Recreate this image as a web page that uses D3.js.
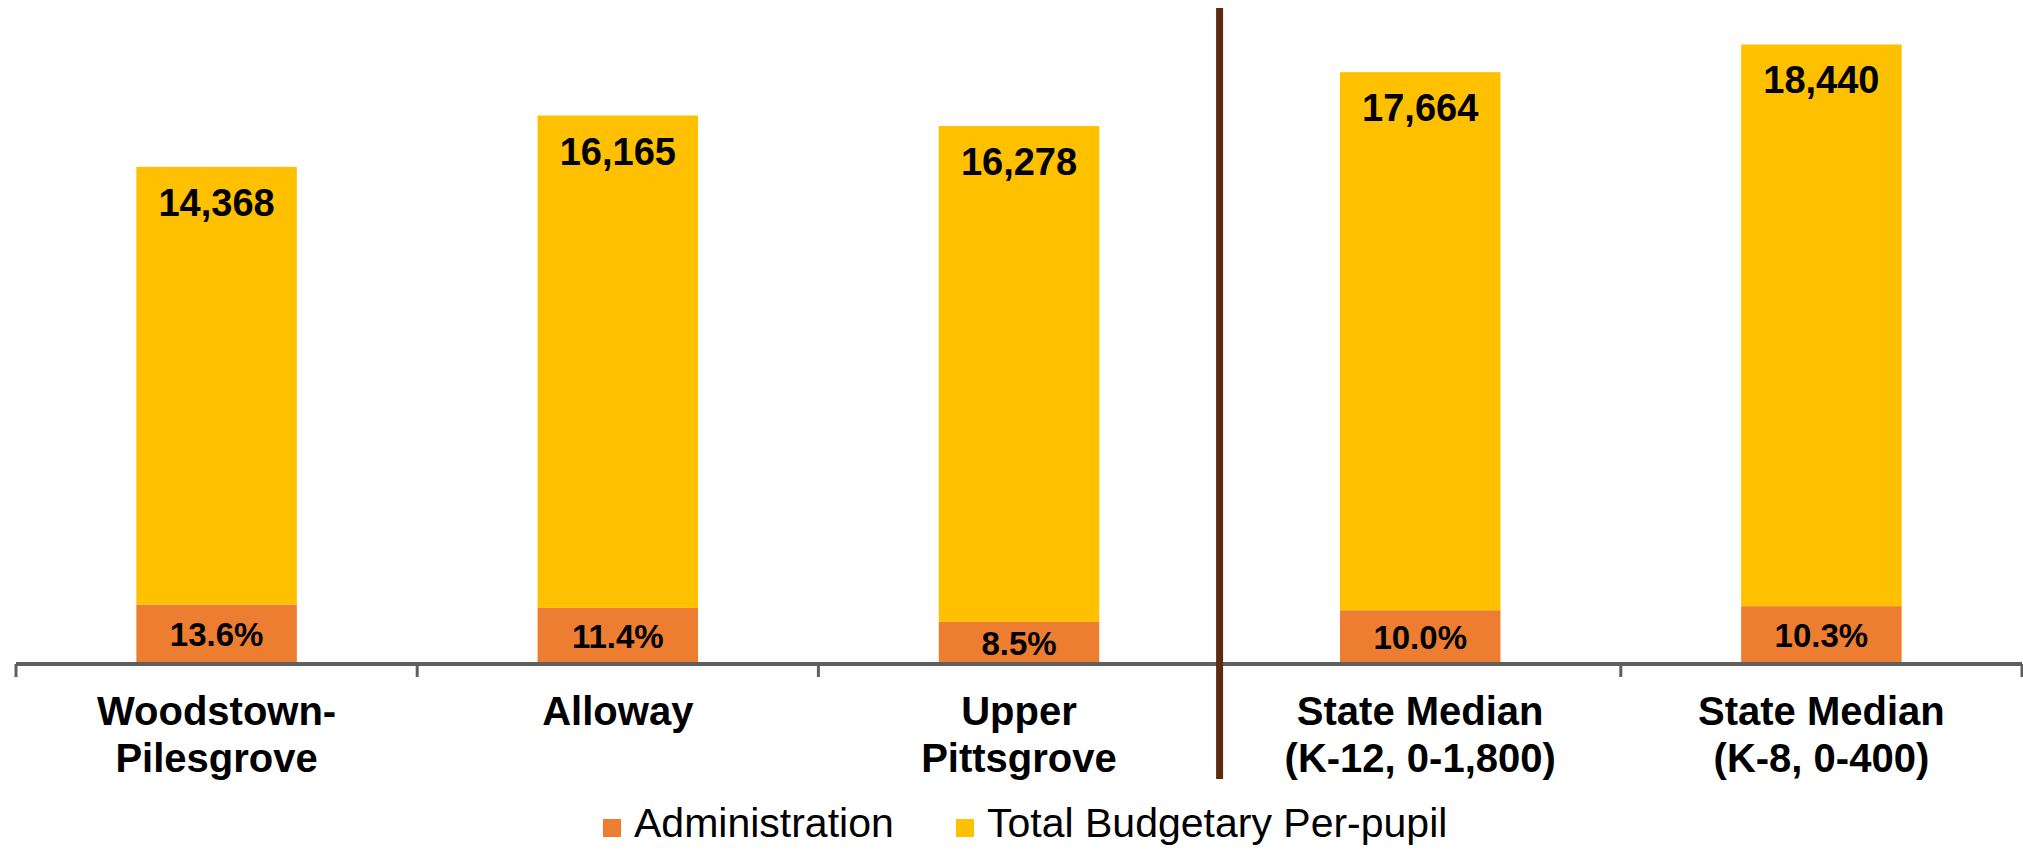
<!DOCTYPE html>
<html>
<head>
<meta charset="utf-8">
<script src="https://cdn.jsdelivr.net/npm/d3@7"></script>
<style>
  html, body { margin: 0; padding: 0; background: #ffffff; }
  svg { display: block; font-family: "Liberation Sans", Arial, Helvetica, sans-serif; }
</style>
</head>
<body>
<svg id="chart" width="2023" height="850"></svg>
<script>
// Per-pupil spending by district, with the administration share
const categories = [
  "Woodstown-Pilesgrove",
  "Alloway",
  "Upper Pittsgrove",
  "State Median (K-12, 0-1,800)",
  "State Median (K-8, 0-400)"
];
const categoryLines = [
  ["Woodstown-", "Pilesgrove"],
  ["Alloway"],
  ["Upper", "Pittsgrove"],
  ["State Median", "(K-12, 0-1,800)"],
  ["State Median", "(K-8, 0-400)"]
];
const totalPerPupil = [14368, 16165, 16278, 17664, 18440];
const adminPct = [13.6, 11.4, 8.5, 10.0, 10.3];
const seriesNames = ["Administration", "Total Budgetary Per-pupil"];
const seriesColors = ["#ED7D31", "#FFC000"];

const svg = d3.select("#chart");
const axisY = 664;

const x = d3.scaleBand()
  .domain(categories)
  .range([16, 2022])
  .paddingInner(0.6)
  .paddingOuter(0.3);

const y = d3.scaleLinear()
  .domain([0, 21800])
  .range([axisY, 0]);

const rows = categories.map((c, i) => {
  const admin = totalPerPupil[i] * adminPct[i] / 100;
  return { cat: c, admin, total: totalPerPupil[i], pct: adminPct[i] };
});

const fmtTotal = d3.format(",");
const fmtPct = d => d3.format(".1f")(d) + "%";

// Administration segment (bottom)
svg.append("g").selectAll("rect")
  .data(rows).join("rect")
  .attr("x", d => x(d.cat))
  .attr("width", x.bandwidth())
  .attr("y", d => y(d.admin))
  .attr("height", d => y(0) - y(d.admin))
  .attr("fill", seriesColors[0]);

// Total budgetary per-pupil segment stacked above
svg.append("g").selectAll("rect")
  .data(rows).join("rect")
  .attr("x", d => x(d.cat))
  .attr("width", x.bandwidth())
  .attr("y", d => y(d.admin + d.total))
  .attr("height", d => y(d.admin) - y(d.admin + d.total))
  .attr("fill", seriesColors[1]);

// Category axis with boundary ticks
const step = x.step();
const boundaries = d3.range(categories.length + 1).map(i => x.range()[0] + i * step);
const axisG = svg.append("g");
axisG.append("line")
  .attr("x1", boundaries[0]).attr("x2", boundaries[boundaries.length - 1])
  .attr("y1", axisY).attr("y2", axisY)
  .attr("stroke", "#5f5f5f").attr("stroke-width", 4);
axisG.selectAll("line.tick")
  .data(boundaries).join("line")
  .attr("class", "tick")
  .attr("x1", d => d).attr("x2", d => d)
  .attr("y1", axisY).attr("y2", axisY + 13)
  .attr("stroke", "#5f5f5f").attr("stroke-width", 3);

// Value labels
svg.append("g").selectAll("text")
  .data(rows).join("text")
  .attr("x", d => x(d.cat) + x.bandwidth() / 2)
  .attr("y", d => y(d.admin + d.total) + 49)
  .attr("text-anchor", "middle")
  .attr("font-weight", "bold")
  .attr("font-size", 38)
  .attr("fill", "#000")
  .text(d => fmtTotal(d.total));

svg.append("g").selectAll("text")
  .data(rows).join("text")
  .attr("x", d => x(d.cat) + x.bandwidth() / 2)
  .attr("y", d => (y(d.admin) + y(0)) / 2 + 0.358 * 33)
  .attr("text-anchor", "middle")
  .attr("font-weight", "bold")
  .attr("font-size", 33)
  .attr("fill", "#000")
  .text(d => fmtPct(d.pct));

// Category labels
const labelG = svg.append("g").selectAll("text")
  .data(rows).join("text")
  .attr("text-anchor", "middle")
  .attr("font-weight", "bold")
  .attr("font-size", 40)
  .attr("fill", "#000");
labelG.each(function (d, i) {
  const t = d3.select(this);
  categoryLines[i].forEach((line, j) => {
    t.append("tspan")
      .attr("x", x(d.cat) + x.bandwidth() / 2)
      .attr("y", 725 + j * 47)
      .text(line);
  });
});

// Divider between districts and state medians
const divX = (x(categories[2]) + x.bandwidth() + x(categories[3])) / 2;
svg.append("line")
  .attr("x1", divX).attr("x2", divX)
  .attr("y1", 8).attr("y2", 779)
  .attr("stroke", "#5c2a0e").attr("stroke-width", 7);

// Legend
const legendItems = [
  { name: seriesNames[0], color: seriesColors[0], x: 603 },
  { name: seriesNames[1], color: seriesColors[1], x: 956 }
];
const lg = svg.append("g").selectAll("g")
  .data(legendItems).join("g")
  .attr("transform", d => `translate(${d.x},0)`);
lg.append("rect")
  .attr("x", 0).attr("y", 819)
  .attr("width", 18).attr("height", 18)
  .attr("fill", d => d.color);
lg.append("text")
  .attr("x", 31).attr("y", 837)
  .attr("font-size", 41)
  .attr("fill", "#000")
  .text(d => d.name);
</script>
</body>
</html>
